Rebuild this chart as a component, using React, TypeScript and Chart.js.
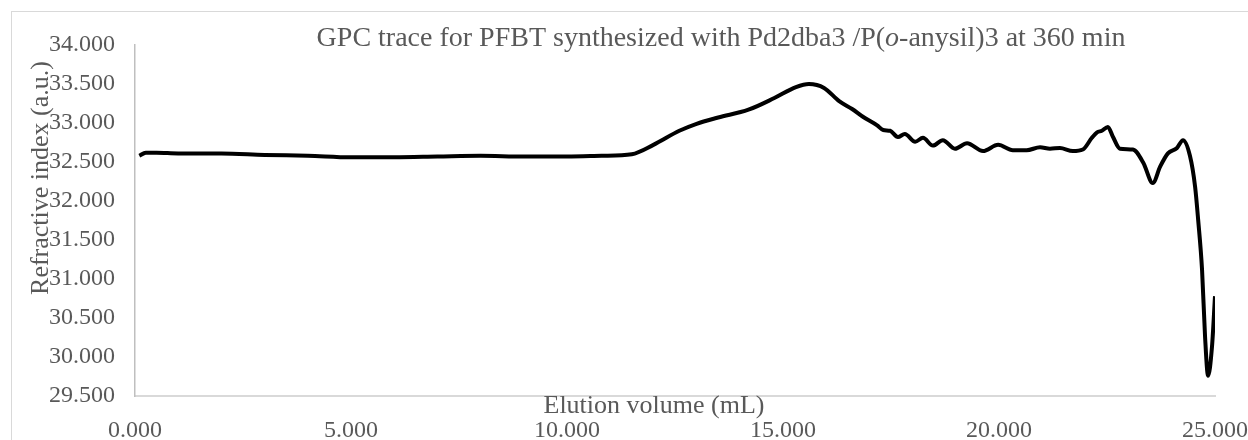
import React, { useEffect, useRef } from "react";
import { Chart, registerables } from "chart.js";

Chart.register(...registerables);

const xTitle = "Elution volume (mL)";
const yTitle = "Refractive index (a.u.)";
const titlePre = "GPC trace for PFBT synthesized with Pd2dba3 /P(";
const titleItalic = "o";
const titlePost = "-anysil)3 at 360 min";

const elution = [
  0.1, 0.25, 0.5, 1, 2, 3, 4, 5, 6, 7, 8, 9, 10, 10.8, 11.5, 12.0, 12.6, 13.0, 13.5, 14.2,
  14.8, 15.3, 15.6, 15.95, 16.3, 16.6, 16.85, 17.18, 17.32, 17.48, 17.66, 17.82, 18.06, 18.24,
  18.47, 18.7, 18.98, 19.26, 19.63, 19.98, 20.32, 20.64, 20.95, 21.18, 21.41, 21.71, 21.94,
  22.15, 22.27, 22.38, 22.52, 22.64, 22.8, 23.1, 23.34, 23.56, 23.73, 23.91, 24.12, 24.26,
  24.42, 24.54, 24.61, 24.7, 24.77, 24.84, 24.93, 25.0,
];

const refractive = [
  32.58, 32.62, 32.62, 32.61, 32.61, 32.59, 32.58, 32.56, 32.56, 32.57, 32.58, 32.57, 32.57,
  32.58, 32.6, 32.72, 32.9, 32.99, 33.07, 33.17, 33.32, 33.46, 33.5, 33.45, 33.28, 33.18,
  33.08, 32.97, 32.91, 32.9, 32.82, 32.86, 32.76, 32.81, 32.71, 32.78, 32.67, 32.74, 32.64,
  32.72, 32.65, 32.65, 32.69, 32.67, 32.68, 32.64, 32.66, 32.81, 32.88, 32.9, 32.95, 32.82,
  32.67, 32.66, 32.49, 32.23, 32.44, 32.61, 32.68, 32.78, 32.58, 32.18, 31.76, 31.12, 30.26,
  29.76, 30.13, 30.78,
];

const xTicks = [0, 5, 10, 15, 20, 25];
const yTicks = [29.5, 30, 30.5, 31, 31.5, 32, 32.5, 33, 33.5, 34];

const FONT = "'Liberation Serif', 'Times New Roman', serif";
const TEXT = "#595959";

const decor = {
  id: "decor",
  beforeDraw(chart: any) {
    const ctx = chart.ctx;
    ctx.save();
    ctx.fillStyle = "#ffffff";
    ctx.fillRect(0, 0, chart.width, chart.height);
    ctx.strokeStyle = "#d9d9d9";
    ctx.lineWidth = 1;
    ctx.strokeRect(11.5, 11.5, 1400, 600);
    ctx.restore();
  },
  afterDraw(chart: any) {
    const ctx = chart.ctx;
    ctx.save();
    ctx.fillStyle = TEXT;
    ctx.textBaseline = "alphabetic";
    ctx.textAlign = "left";
    const reg = `28px ${FONT}`;
    const it = `italic 28px ${FONT}`;
    ctx.font = reg;
    const wPre = ctx.measureText(titlePre).width;
    const wPost = ctx.measureText(titlePost).width;
    ctx.font = it;
    const wIt = ctx.measureText(titleItalic).width;
    const total = wPre + wIt + wPost;
    let x = 721 - total / 2;
    const y = 46;
    ctx.font = reg;
    ctx.fillText(titlePre, x, y);
    x += wPre;
    ctx.font = it;
    ctx.fillText(titleItalic, x, y);
    x += wIt;
    ctx.font = reg;
    ctx.fillText(titlePost, x, y);

    ctx.font = `26px ${FONT}`;
    ctx.textAlign = "center";
    ctx.fillText(xTitle, 654, 413);

    ctx.translate(48, 178);
    ctx.rotate(-Math.PI / 2);
    ctx.fillText(yTitle, 0, 0);
    ctx.restore();
  },
};

export default function App() {
  const ref = useRef<HTMLCanvasElement>(null);
  useEffect(() => {
    if (!ref.current) return;
    const chart = new Chart(ref.current, {
      type: "line",
      data: {
        datasets: [
          {
            data: elution.map((e, i) => ({ x: e, y: refractive[i] })),
            borderColor: "#000000",
            borderWidth: 4,
            pointRadius: 0,
            cubicInterpolationMode: "monotone",
            fill: false,
          },
        ],
      },
      options: {
        animation: false,
        responsive: false,
        maintainAspectRatio: false,
        events: [],
        layout: { padding: { top: 45, right: 33, left: 0, bottom: 0 } },
        plugins: { legend: { display: false }, title: { display: false }, tooltip: { enabled: false } },
        scales: {
          x: {
            type: "linear",
            min: 0,
            max: 25,
            afterBuildTicks: (s: any) => {
              s.ticks = xTicks.map((v) => ({ value: v }));
            },
            afterFit: (s: any) => {
              s.height = 44;
              s.paddingLeft = 0;
              s.paddingRight = 0;
            },
            ticks: {
              color: TEXT,
              font: { family: FONT, size: 24 },
              padding: 20,
              maxRotation: 0,
              autoSkip: false,
              callback: (v: any) => Number(v).toFixed(3),
            },
            grid: { display: false, drawTicks: false },
            border: { display: true, color: "#d9d9d9", width: 2 },
          },
          y: {
            type: "linear",
            min: 29.5,
            max: 34,
            afterBuildTicks: (s: any) => {
              s.ticks = yTicks.map((v) => ({ value: v }));
            },
            afterFit: (s: any) => {
              s.width = 135;
              s.paddingTop = 0;
              s.paddingBottom = 0;
            },
            ticks: {
              color: TEXT,
              font: { family: FONT, size: 24 },
              padding: 20,
              autoSkip: false,
              callback: (v: any) => Number(v).toFixed(3),
            },
            grid: { display: false, drawTicks: false },
            border: { display: true, color: "#bfbfbf", width: 1.5 },
          },
        },
      },
      plugins: [decor],
    });
    return () => chart.destroy();
  }, []);
  return (
    <div style={{ position: "fixed", left: 0, top: 0, width: 1248, height: 440, background: "#fff" }}>
      <canvas ref={ref} width={1248} height={440} style={{ width: 1248, height: 440, display: "block" }} />
    </div>
  );
}
